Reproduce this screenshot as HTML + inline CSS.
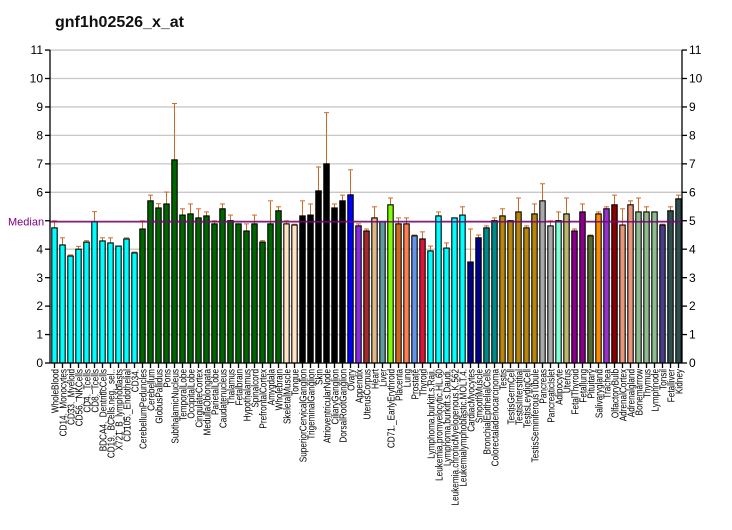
<!DOCTYPE html>
<html><head><meta charset="utf-8"><style>
body{margin:0;background:#fff;}
svg{display:block;font-family:"Liberation Sans",sans-serif;}
</style></head><body>
<svg id="s" width="732" height="530" xmlns="http://www.w3.org/2000/svg">
<text x="55" y="27" font-size="16" font-weight="bold" fill="#111">gnf1h02526_x_at</text>
<g id="grid"></g>
<g id="bars"></g>
<line x1="50" y1="221.8" x2="682" y2="221.8" stroke="#800080" stroke-width="1.3"/>
<text x="8" y="225.5" font-size="11" fill="#800080">Median</text>
<g id="axes" stroke="#000" stroke-width="1.3"></g>
<g id="yl" font-size="12" fill="#000">
<text x="43" y="367" text-anchor="end">0</text><text x="43" y="338.5" text-anchor="end">1</text><text x="43" y="310" text-anchor="end">2</text><text x="43" y="282" text-anchor="end">3</text><text x="43" y="253.5" text-anchor="end">4</text><text x="43" y="196.5" text-anchor="end">6</text><text x="43" y="168" text-anchor="end">7</text><text x="43" y="139.5" text-anchor="end">8</text><text x="43" y="111" text-anchor="end">9</text><text x="43" y="82.5" text-anchor="end">10</text><text x="43" y="54" text-anchor="end">11</text>
<text x="689" y="367">0</text><text x="689" y="338.5">1</text><text x="689" y="310">2</text><text x="689" y="282">3</text><text x="689" y="253.5">4</text><text x="689" y="225">5</text><text x="689" y="196.5">6</text><text x="689" y="168">7</text><text x="689" y="139.5">8</text><text x="689" y="111">9</text><text x="689" y="82.5">10</text><text x="689" y="54">11</text>
</g>
<g id="labels" font-size="10.5" fill="#000" text-anchor="end">
<text>WholeBlood</text><text>CD14._Monocytes</text><text>CD33._Myeloid</text><text>CD56._NKCells</text><text>CD4._Tcells</text><text>CD8._Tcells</text><text>BDCA4._DentriticCells</text><text>CD19._BCells.neg._sel..</text><text>X721_B_lymphoblasts</text><text>CD105._Endothelial</text><text>CD34.</text>
<text>CerebellumPeduncles</text><text>Cerebellum</text><text>GlobusPallidus</text><text>Pons</text><text>SubthalamicNucleus</text><text>TemporalLobe</text><text>OccipitalLobe</text><text>CingulateCortex</text><text>MedullaOblongata</text><text>ParietalLobe</text><text>Caudatenucleus</text><text>Thalamus</text><text>Fetalbrain</text><text>Hypothalamus</text><text>Spinalcord</text><text>PrefrontalCortex</text><text>Amygdala</text><text>Wholebrain</text>
<text>SkeletalMuscle</text><text>Tongue</text><text>SuperiorCervicalGanglion</text><text>TrigeminalGanglion</text><text>Skin</text><text>AtrioventricularNode</text><text>CiliaryGanglion</text><text>DorsalRootGanglion</text><text>Ovary</text><text>Appendix</text><text>UterusCorpus</text><text>Heart</text><text>Liver</text><text>CD71._EarlyErythroid</text><text>Placenta</text><text>Lung</text><text>Prostate</text><text>Thyroid</text>
<text>Lymphoma.burkitt.s.Raji.</text><text>Leukemia.promyelocytic.HL.60</text><text>Lymphoma.burkitt.s.Daudi.</text><text>Leukemia.chronicMyelogenous.K.562</text><text>Leukemialymphoblastic.MOLT.4.</text><text>CardiacMyocytes</text><text>SmoothMuscle</text><text>BronchialEpithelialCells</text><text>Colorectaladenocarcinoma</text><text>Testis</text><text>TestisGermCell</text><text>TestisInterstitial</text><text>TestisLeydigCell</text><text>TestisSeminiferousTubule</text><text>Pancreas</text><text>PancreaticIslet</text><text>Adipocyte</text><text>Uterus</text><text>FetalThyroid</text><text>Fetallung</text><text>Pituitary</text><text>Salivarygland</text><text>Trachea</text><text>OlfactoryBulb</text><text>AdrenalCortex</text><text>Adrenalgland</text><text>Bonemarrow</text><text>Thymus</text><text>Lymphnode</text><text>Tonsil</text><text>Fetalliver</text><text>Kidney</text>
</g>
</svg>
<script>
var NS="http://www.w3.org/2000/svg";
function Y(v){return 363-28.45*v;}
function el(p,t,a){var e=document.createElementNS(NS,t);for(var k in a)e.setAttribute(k,a[k]);p.appendChild(e);return e;}
var g=document.getElementById('grid');
for(var i=1;i<=11;i++)el(g,'line',{x1:50,x2:682,y1:Y(i),y2:Y(i),stroke:'#c8c8c8','stroke-width':1.3});
var d=[
[4.75,5.0,'#00FFFF'],[4.15,4.4,'#00FFFF'],[3.76,3.8,'#00FFFF'],[4.0,4.1,'#00FFFF'],[4.25,4.3,'#00FFFF'],[4.97,5.32,'#00FFFF'],[4.29,4.4,'#00FFFF'],[4.22,4.4,'#00FFFF'],[4.11,0,'#00FFFF'],[4.36,4.4,'#00FFFF'],[3.87,3.9,'#00FFFF'],
[4.71,5.0,'#006400'],[5.7,5.9,'#006400'],[5.45,5.6,'#006400'],[5.59,6.01,'#006400'],[7.14,9.12,'#006400'],[5.2,5.42,'#006400'],[5.24,5.59,'#006400'],[5.1,5.42,'#006400'],[5.17,5.31,'#006400'],[4.89,5.0,'#006400'],[5.42,5.59,'#006400'],[5.0,5.2,'#006400'],[4.89,0,'#006400'],[4.64,4.89,'#006400'],[4.89,5.2,'#006400'],[4.25,4.3,'#006400'],[4.89,5.7,'#006400'],[5.35,5.49,'#006400'],
[4.89,5.0,'#FFE4C4'],[4.85,4.88,'#FFE4C4'],
[5.17,5.7,'#000'],[5.2,5.59,'#000'],[6.05,6.89,'#000'],[7.0,8.8,'#000'],[5.45,5.59,'#000'],[5.7,5.9,'#000'],
[5.91,6.79,'#0000FF'],[4.82,4.89,'#8A2BE2'],[4.64,4.71,'#A52A2A'],[5.1,5.49,'#DEB887'],[4.96,0,'#5F9EA0'],[5.56,5.8,'#7FFF00'],[4.89,5.1,'#D2691E'],[4.89,5.1,'#FF7F50'],[4.47,4.5,'#6495ED'],[4.36,4.61,'#DC143C'],
[3.94,4.11,'#00FFFF'],[5.17,5.31,'#00FFFF'],[4.04,4.22,'#00FFFF'],[5.1,0,'#00FFFF'],[5.2,5.49,'#00FFFF'],
[3.55,4.71,'#00008B'],[4.4,4.5,'#00008B'],[4.75,4.82,'#008B8B'],[5.0,5.1,'#008B8B'],
[5.17,5.42,'#B8860B'],[5.0,0,'#B8860B'],[5.31,5.8,'#B8860B'],[4.75,4.82,'#B8860B'],[5.24,5.59,'#B8860B'],
[5.7,6.3,'#A9A9A9'],[4.82,5.0,'#A9A9A9'],[5.0,5.31,'#7FFFD4'],[5.24,5.8,'#BDB76B'],[4.64,4.71,'#8B008B'],[5.31,5.59,'#8B008B'],[4.47,4.5,'#556B2F'],[5.24,5.31,'#FF8C00'],[5.42,5.49,'#9932CC'],[5.56,5.9,'#8B0000'],[4.85,5.42,'#E9967A'],[5.56,5.7,'#E9967A'],[5.31,5.8,'#8FBC8F'],[5.31,5.49,'#8FBC8F'],[5.31,0,'#8FBC8F'],[4.85,4.88,'#483D8B'],[5.35,5.49,'#2F4F4F'],[5.77,5.9,'#2F4F4F']];
var b=document.getElementById('bars');
d.forEach(function(r,i){
 var x=51.8+8*i, w=5.4, c=x+w/2;
 if(r[1]>r[0]){el(b,'line',{x1:c,x2:c,y1:Y(r[1]),y2:Y(r[0]),stroke:'#CD6A28','stroke-width':1});
  el(b,'line',{x1:c-2.5,x2:c+2.5,y1:Y(r[1]),y2:Y(r[1]),stroke:'#CD6A28','stroke-width':1});}
 el(b,'rect',{x:x,y:Y(r[0]),width:w,height:363-Y(r[0]),fill:r[2],stroke:'#000','stroke-width':1.1});
});
var a=document.getElementById('axes');
el(a,'line',{x1:50,x2:50,y1:50,y2:363});el(a,'line',{x1:682,x2:682,y1:50,y2:363});el(a,'line',{x1:50,x2:682,y1:363,y2:363});
for(var i=0;i<=11;i++){el(a,'line',{x1:45,x2:50,y1:Y(i),y2:Y(i)});el(a,'line',{x1:682,x2:687,y1:Y(i),y2:Y(i)});}
for(var i=0;i<79;i++){var c=54.5+8*i;el(a,'line',{x1:c,x2:c,y1:363,y2:368});}
var L=document.getElementById('labels').children;
for(var i=0;i<L.length;i++){var x=54.5+8*i+3.8;L[i].setAttribute('transform','translate('+x+',369) rotate(-90) scale(0.78,1)');}
</script>
</body></html>
